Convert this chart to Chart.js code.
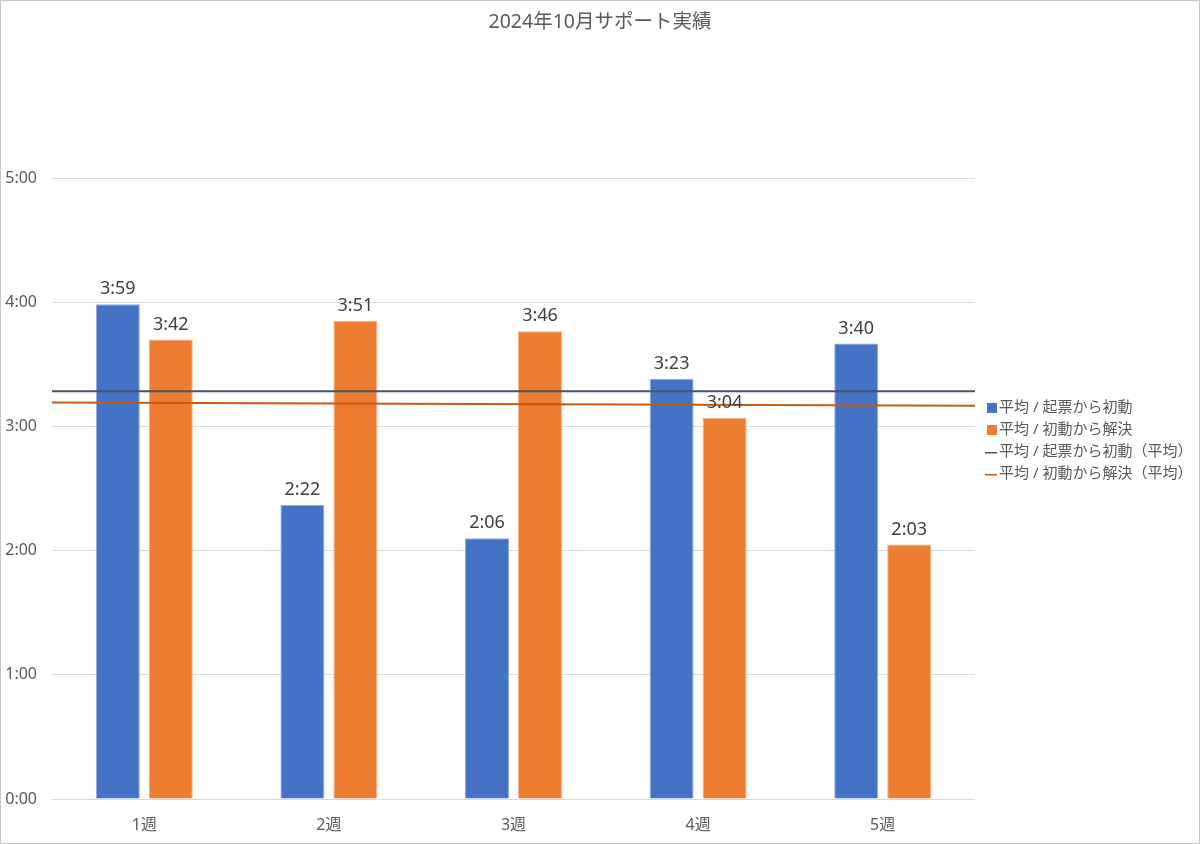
<!DOCTYPE html>
<html>
<head>
<meta charset="utf-8">
<script src="https://cdn.jsdelivr.net/npm/chart.js@4/dist/chart.umd.min.js"></script>
<style>
  body { margin: 0; background: #fff; }
  #wrap { position: relative; width: 1200px; height: 844px; }
  #frame { position: absolute; left: 0; top: 0; width: 1200px; height: 844px; box-sizing: border-box; border: 1px solid #c6c6c6; pointer-events: none; }
  canvas { display: block; }
</style>
</head>
<body>
<div id="wrap">
  <canvas id="canvas" width="1200" height="844"></canvas>
  <div id="frame"></div>
</div>
<script>
// values in minutes
var weeks = ['1週', '2週', '3週', '4週', '5週'];
var firstResponse = [239, 142, 126, 203, 220];
var toResolve = [222, 231, 226, 184, 123];
var avgFirstLine = [197, 197];
var avgResolveLine = [191.6, 190];

var chartTitle = '2024年10月サポート実績';
var seriesNames = ['平均 / 起票から初動', '平均 / 初動から解決', '平均 / 起票から初動（平均）', '平均 / 初動から解決（平均）'];

var FONT = "'Noto Sans', 'Noto Sans CJK JP', sans-serif";

function hm(v) {
  var h = Math.floor(v / 60);
  var m = Math.round(v - h * 60);
  return h + ':' + (m < 10 ? '0' + m : m);
}

function pts(arr) {
  return arr.map(function(v, i) { return {x: i, y: v}; });
}

var valueLabels = {
  id: 'valueLabels',
  afterDatasetsDraw: function(chart) {
    var ctx = chart.ctx;
    ctx.save();
    ctx.font = '18px ' + FONT;
    ctx.fillStyle = '#404040';
    ctx.textAlign = 'center';
    ctx.textBaseline = 'middle';
    chart.data.datasets.forEach(function(ds, i) {
      if (ds.type === 'line') return;
      chart.getDatasetMeta(i).data.forEach(function(bar, j) {
        ctx.fillText(hm(ds.data[j].y), bar.x, bar.y - 15);
      });
    });
    ctx.restore();
  }
};

// title and legend drawn by hand so they sit where the original has them
var extras = {
  id: 'extras',
  afterDraw: function(chart) {
    var ctx = chart.ctx;
    var cols = ['#4472C4', '#ED7D31', '#44546A', '#C55A11'];
    ctx.save();
    ctx.fillStyle = '#595959';
    ctx.font = '19.5px ' + FONT;
    ctx.textAlign = 'center';
    ctx.textBaseline = 'middle';
    ctx.fillText(chartTitle, 600, 22);

    ctx.textAlign = 'left';
    ctx.font = '15px ' + FONT;
    for (var i = 0; i < 4; i++) {
      var y = 408 + i * 22;
      ctx.fillStyle = cols[i];
      if (i < 2) {
        ctx.fillRect(987, y - 5, 10, 10);
      } else {
        ctx.fillRect(985, y, 12, 1.5);
      }
      ctx.fillStyle = '#595959';
      ctx.fillText(seriesNames[i], 999, y);
    }
    ctx.restore();
  }
};

var ctx = document.getElementById('canvas').getContext('2d');
var config = {
  type: 'bar',
  data: {
    datasets: [
      {
        label: seriesNames[0],
        data: pts(firstResponse),
        backgroundColor: '#4472C4',
        borderColor: '#8FAADC',
        borderWidth: 1,
        categoryPercentage: 0.574,
        barPercentage: 0.83,
        order: 2
      },
      {
        label: seriesNames[1],
        data: pts(toResolve),
        backgroundColor: '#ED7D31',
        borderColor: '#F4B183',
        borderWidth: 1,
        categoryPercentage: 0.574,
        barPercentage: 0.83,
        order: 2
      },
      {
        type: 'line',
        label: seriesNames[2],
        data: [{x: -0.5, y: avgFirstLine[0]}, {x: weeks.length - 0.5, y: avgFirstLine[1]}],
        borderColor: '#44546A',
        borderWidth: 2,
        pointRadius: 0,
        order: 1
      },
      {
        type: 'line',
        label: seriesNames[3],
        data: [{x: -0.5, y: avgResolveLine[0]}, {x: weeks.length - 0.5, y: avgResolveLine[1]}],
        borderColor: '#C55A11',
        borderWidth: 2,
        pointRadius: 0,
        order: 1
      }
    ]
  },
  options: {
    responsive: false,
    animation: false,
    events: [],
    layout: { padding: { left: 5, right: 225, top: 178, bottom: 0 } },
    plugins: {
      legend: { display: false },
      tooltip: { enabled: false },
      title: { display: false }
    },
    scales: {
      x: {
        type: 'linear',
        min: -0.5,
        max: weeks.length - 0.5,
        offset: false,
        grid: { display: false, drawTicks: false },
        border: { display: false },
        afterBuildTicks: function(s) {
          s.ticks = weeks.map(function(w, i) { return {value: i}; });
        },
        ticks: {
          color: '#595959',
          font: { family: FONT, size: 16 },
          padding: 17,
          autoSkip: false,
          maxRotation: 0,
          callback: function(v) { return weeks[v]; }
        },
        afterFit: function(s) { s.height = 45; }
      },
      y: {
        min: 0,
        max: 300,
        ticks: {
          stepSize: 60,
          color: '#595959',
          font: { family: FONT, size: 16 },
          padding: 15,
          callback: function(v) { return hm(v); }
        },
        grid: { color: '#d9d9d9', drawTicks: false },
        border: { display: false },
        afterFit: function(s) { s.width = 47; }
      }
    }
  },
  plugins: [valueLabels, extras]
};

var chart = new Chart(ctx, config);
</script>
</body>
</html>
